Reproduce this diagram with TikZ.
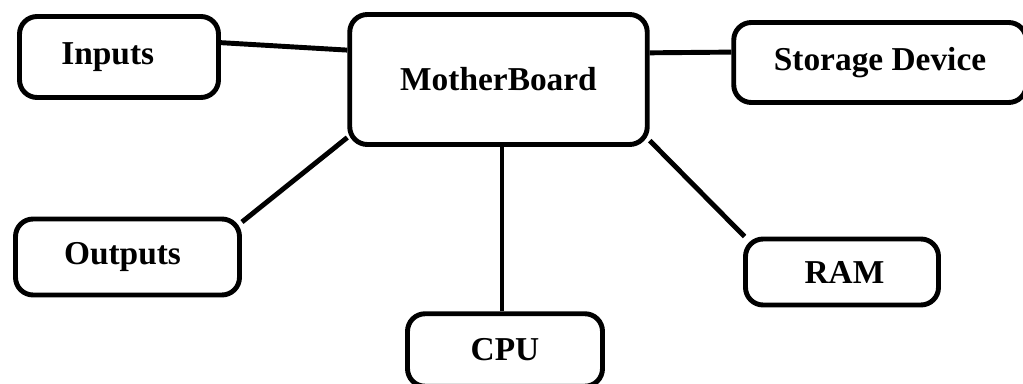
\documentclass[tikz,border=0pt]{standalone}
\usepackage{fontspec}
\setmainfont{Liberation Serif}
\usepackage{tikz}
\usetikzlibrary{positioning,calc}

\begin{document}
\begin{tikzpicture}[
  part/.style={draw, rounded corners=10pt, line width=2.8pt, align=center,
               font=\fontsize{19}{22}\selectfont\bfseries, inner sep=0pt},
  link/.style={line width=2.8pt},
]
\useasboundingbox (0,0) rectangle (20.46,7.68);

% ===== Board in the middle =====
\node[part, minimum width=5.95cm, minimum height=2.6cm] (board) at (9.97,6.09) {MotherBoard};

% ===== Parts round it =====
\node[part, minimum width=3.98cm, minimum height=1.62cm] (inputs)  at (2.38,6.54)  {\hspace*{-0.45cm}\raisebox{-0.08cm}{Inputs}};
\node[part, minimum width=5.85cm, minimum height=1.6cm] (storage) at (17.6,6.43)  {Storage Device};
\node[part, minimum width=4.48cm, minimum height=1.52cm] (outputs) at (2.55,2.54)  {\hspace*{-0.2cm}\raisebox{-0.07cm}{Outputs}};
\node[part, minimum width=3.9cm,  minimum height=1.45cm] (cpu)    at (10.1,0.68)  {CPU};
\node[part, minimum width=3.86cm, minimum height=1.32cm] (ram)     at (16.84,2.24) {\hspace*{0.1cm}RAM};

% ===== Links =====
\draw[link] (inputs.8) -- (board.169);
\draw[link] (board.10) -- (storage.176);
\draw[link] (outputs.17) -- (board.201);
\draw[link] (board.338) -- (ram.160);
\draw[link] ([xshift=-0.06cm]cpu.north) -- ([xshift=-0.06cm]cpu.north |- board.south);

\end{tikzpicture}
\end{document}
